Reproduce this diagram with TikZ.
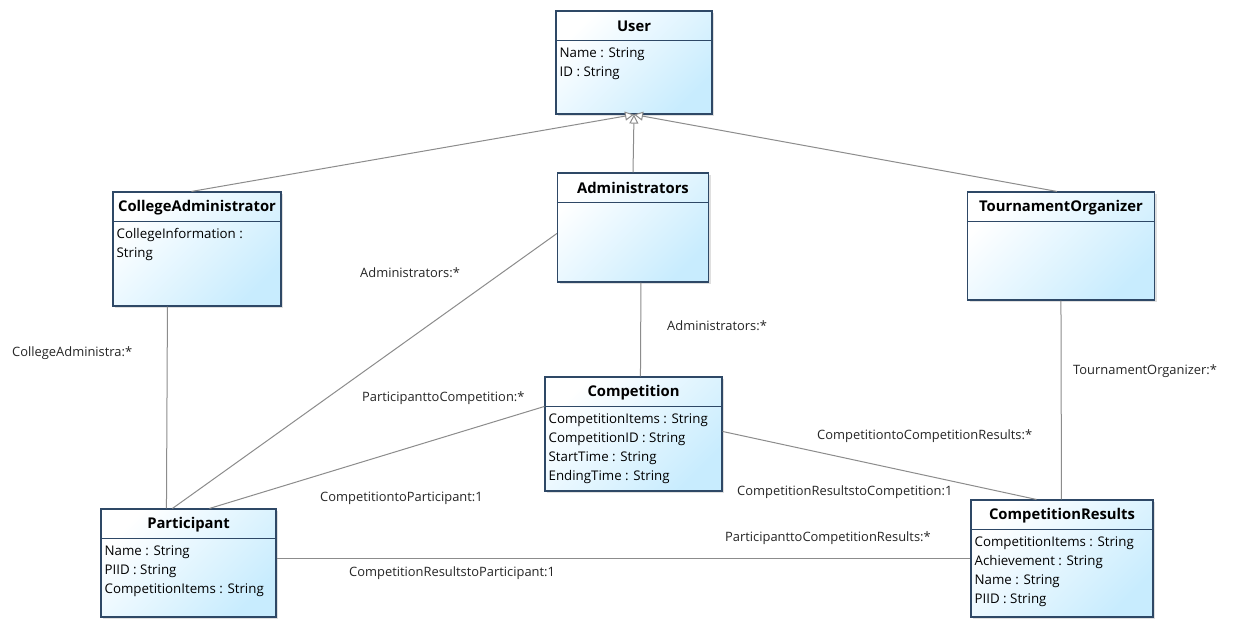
\documentclass[tikz,border=0pt]{standalone}
\usepackage{fontspec}
\setmainfont{Open Sans}
\usetikzlibrary{calc}
\usetikzlibrary{arrows.meta}
\usetikzlibrary{shadows}
\definecolor{boxblue}{RGB}{200,236,254}
\definecolor{boxedge}{RGB}{46,72,102}
\definecolor{linegray}{RGB}{140,140,140}
\tikzset{
    classbox/.style={draw=boxedge, line width=1.1pt, top color=white, bottom color=boxblue, shading angle=45,
        drop shadow={shadow xshift=2pt, shadow yshift=-2pt, opacity=0.25, fill=gray}},
    classtitle/.style={font=\fontsize{14.8}{16}\selectfont\bfseries, inner sep=0pt},
    classattr/.style={font=\fontsize{13.3}{19}\selectfont, align=left, inner sep=0pt, anchor=north west},
    assoc/.style={draw=linegray, line width=1pt},
    general/.style={assoc, -{Triangle[open, length=9pt, width=9pt, fill=white]}},
    role/.style={font=\fontsize{12.9}{14}\selectfont, text=black!85, inner sep=0pt, anchor=west}
}

\begin{document}
\begin{tikzpicture}[x=1pt, y=-1pt]
    \useasboundingbox[fill=white] (0,0) rectangle (1239,631);
    \foreach \nm/\cx/\cy/\w/\h/\ttl/\attr in {
        user/634/62.5/156/103/User/{Name : String\\ID : String},
        cadmin/197/249/168/114/CollegeAdministrator/{CollegeInformation :\\String},
        admin/633/227.5/151/109/Administrators/{},
        torg/1061/246/187/108/TournamentOrganizer/{},
        comp/633.5/434/177/114/Competition/{CompetitionItems : String\\CompetitionID : String\\StartTime : String\\EndingTime : String},
        part/188.5/563/175/108/Participant/{Name : String\\PIID : String\\CompetitionItems : String},
        cres/1062/558.5/182/117/CompetitionResults/{CompetitionItems : String\\Achievement : String\\Name : String\\PIID : String}} {
        \node[classbox, minimum width=\w pt, minimum height=\h pt] (\nm) at (\cx,\cy) {};
        \node[classtitle] (\nm-t) at ($(\nm.north)+(0,16)$) {\ttl};
        \draw[boxedge, line width=1.1pt] ($(\nm.north west)+(0,30)$) -- ($(\nm.north east)+(0,30)$);
        \node[classattr] (\nm-a) at ($(\nm.north west)+(4,37)$) {\attr};
    }
    % generalization
    \draw[general] ($(cadmin.north west)+(79,0)$) -- (user.south);
    \draw[general] (admin.north) -- (user.south);
    \draw[general] ($(torg.north west)+(90,0)$) -- (user.south);
    % associations
    \draw[assoc] ($(cadmin.south west)+(55,0)$) -- ($(part.north west)+(66,0)$);
    \draw[assoc] ($(admin.north west)+(0,61)$) -- ($(part.north west)+(72,0)$);
    \draw[assoc] ($(admin.south west)+(84,0)$) -- ($(comp.north west)+(96,0)$);
    \draw[assoc] ($(comp.north west)+(0,30)$) -- ($(part.north west)+(109,0)$);
    \draw[assoc] ($(comp.north east)+(0,55)$) -- ($(cres.north west)+(66,0)$);
    \draw[assoc] ($(torg.south west)+(94,0)$) -- ($(cres.north west)+(91,0)$);
    \draw[assoc] ($(part.north east)+(0,50)$) -- ($(cres.north west)+(0,59)$);
    % role names
    \node[role] (r-cadmin) at (12,353) {CollegeAdministra:*};
    \node[role] (r-admin1) at (360,273) {Administrators:*};
    \node[role] (r-admin2) at (667,326) {Administrators:*};
    \node[role] (r-ptoc) at (362,398) {ParticipanttoCompetition:*};
    \node[role] (r-ctop) at (320,498) {CompetitiontoParticipant:1};
    \node[role] (r-ctocr) at (817,436) {CompetitiontoCompetitionResults:*};
    \node[role] (r-crtoc) at (737,492) {CompetitionResultstoCompetition:1};
    \node[role] (r-torg) at (1073,371) {TournamentOrganizer:*};
    \node[role] (r-ptocr) at (725,538) {ParticipanttoCompetitionResults:*};
    \node[role] (r-crtop) at (349,573) {CompetitionResultstoParticipant:1};
\end{tikzpicture}
\end{document}
